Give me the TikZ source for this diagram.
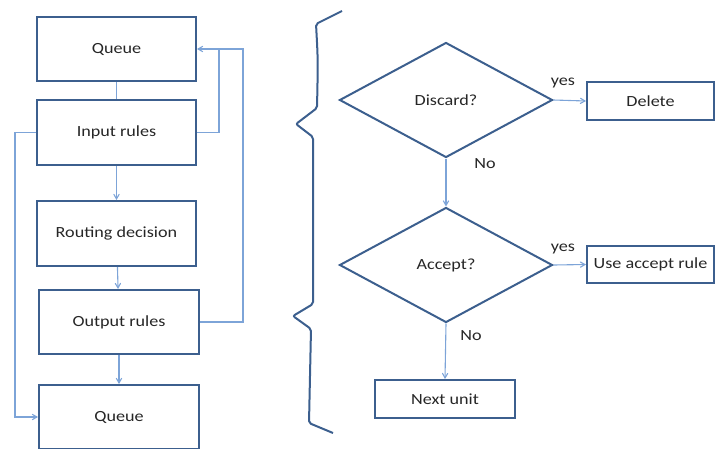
\documentclass[tikz,border=0pt]{standalone}
\usepackage{fontspec}
\setmainfont{Carlito}[FakeStretch=1.17]
\usepackage{xcolor}
\usepackage{tikz}
\usetikzlibrary{arrows}
\usetikzlibrary{shapes.geometric}
\definecolor{boxblue}{HTML}{3C5F8E}
\definecolor{linkblue}{HTML}{7DA4D8}
\begin{document}
\begin{tikzpicture}[x=1pt,y=-1pt,>=angle 60,
  box/.style={draw=boxblue,line width=2pt,rectangle,inner sep=0pt,text=black!85,font=\fontsize{15.5}{18}\selectfont},
  test/.style={draw=boxblue,line width=2pt,diamond,inner sep=0pt,minimum width=213pt,minimum height=115pt,text=black!85,font=\fontsize{15.5}{18}\selectfont},
  conn/.style={draw=linkblue,line width=1.1pt},
  lbl/.style={text=black!85,font=\fontsize{15.5}{18}\selectfont}]
\clip (0,0) rectangle (715,448);

\node [box,minimum width=159pt,minimum height=64pt] (q1) at (116.5,49) {Queue};
\node [box,minimum width=159pt,minimum height=65pt] (inrules) at (116.5,132.5) {Input rules};
\node [box,minimum width=159pt,minimum height=65pt] (routing) at (116.5,233.5) {Routing decision};
\node [box,minimum width=160pt,minimum height=64pt] (outrules) at (119,322) {Output rules};
\node [box,minimum width=160pt,minimum height=64pt] (q2) at (119,417) {Queue};

\coordinate (fbright) at (243,49);
\draw[conn] (q1) -- (inrules);
\draw[conn,->] (inrules) -- (routing);
\draw[conn,->] (routing) -- (outrules);
\draw[conn,->] (outrules) -- (q2);
\draw[conn,->] (inrules.east) -- ++(22,0) |- (q1.east);
\draw[conn] (outrules.east) -| (fbright) -- ++(-25,0);
\draw[conn,->] (inrules.west) -- ++(-21,0) |- (q2.west);

\draw[boxblue,line width=2pt,rounded corners=2pt] (342,11) -- (316,24) .. controls (318,60) .. (317,108) -- (296,124) -- (313,137) -- (313,304) -- (293,316) -- (311,329) -- (309,423) -- (333,433);

\node [test] (discard) at (446,100) {Discard?};
\node [test] (accept) at (446,265) {Accept?};
\node [box,minimum width=127pt,minimum height=38pt] (delete) at (650.5,101) {Delete};
\node [box,minimum width=127pt,minimum height=37pt] (useaccept) at (650.5,264.5) {Use accept rule};
\node [box,minimum width=140pt,minimum height=38pt] (nextunit) at (445,399) {Next unit};

\draw[conn,->] (discard.east) -- (delete.west);
\draw[conn,->] (accept.east) -- (useaccept.west);
\draw[conn,->] (discard.south) -- (accept.north);
\draw[conn,->] (accept.south) -- (nextunit.north);

\node [lbl] (yes1) at (563,83) {yes};
\node [lbl] (yes2) at (563,249) {yes};
\node [lbl] (no1) at (485,164) {No};
\node [lbl] (no2) at (471,336) {No};
\end{tikzpicture}
\end{document}
